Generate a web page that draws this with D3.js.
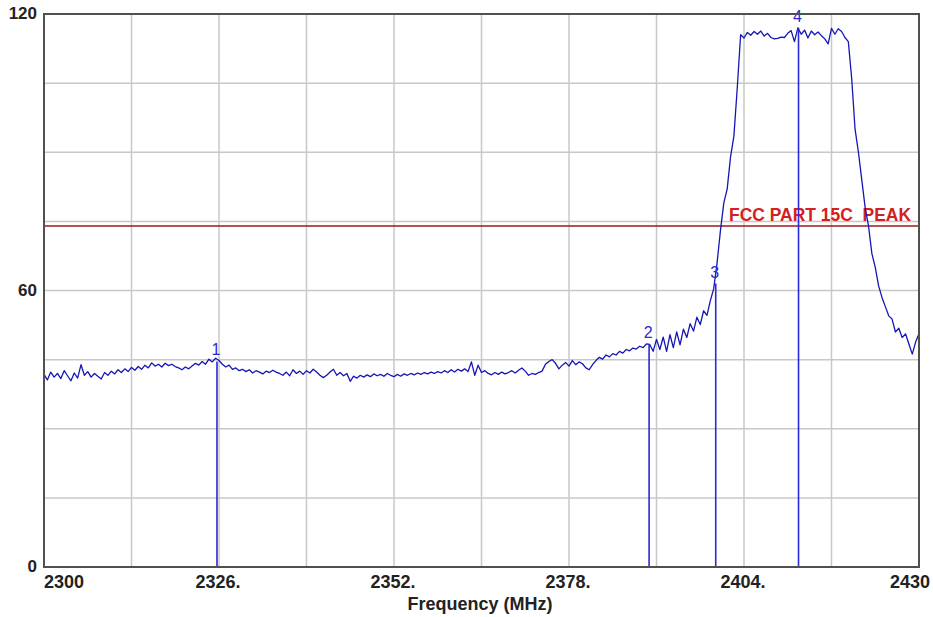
<!DOCTYPE html>
<html><head><meta charset="utf-8">
<script src="https://cdn.jsdelivr.net/npm/d3@7"></script>
<style>html,body{margin:0;padding:0;background:#fff;}svg{display:block;}</style>
</head><body>
<svg id="c" width="933" height="617"></svg>
<script>
// Sweep settings (MHz)
const freqStart = 2300;
const freqStep = 0.5;
// Trace levels (dBuV) every 0.5 MHz from 2300 to 2430
const levels = [
 41.8, 40.6, 42.3, 41.2, 42.0, 40.9, 42.6, 41.5, 40.4, 42.1,
 41.0, 43.9, 41.6, 42.4, 41.2, 42.0, 41.4, 40.8, 42.2, 41.6,
 42.5, 41.9, 42.8, 42.2, 43.0, 42.4, 43.3, 42.7, 43.5, 42.9,
 43.8, 43.2, 44.3, 43.6, 44.0, 43.4, 44.2, 43.7, 44.0, 43.5,
 43.2, 42.8, 43.4, 43.0, 43.6, 44.2, 43.8, 44.6, 44.0, 45.1,
 44.5, 45.3, 44.8, 44.0, 43.4, 43.8, 42.9, 43.2, 42.6, 42.9,
 42.4, 42.8, 42.1, 42.6, 42.3, 41.9, 42.5, 42.2, 42.7, 42.3,
 42.0, 41.6, 42.3, 41.5, 42.8, 42.0, 42.5, 41.8, 42.6, 42.1,
 42.9, 42.3, 41.6, 41.1, 41.6, 42.3, 42.9, 41.6, 42.2, 41.5,
 42.0, 40.3, 41.4, 41.0, 41.6, 41.2, 41.7, 41.3, 41.9, 41.5,
 41.8, 41.4, 42.0, 41.6, 41.3, 41.8, 41.4, 41.9, 41.6, 42.0,
 41.7, 42.1, 41.8, 42.2, 41.9, 42.3, 42.0, 42.4, 42.1, 42.6,
 42.2, 42.8, 42.3, 42.9, 42.5, 43.0, 42.4, 44.5, 41.6, 43.8,
 42.2, 42.6, 42.0, 41.7, 42.2, 41.8, 42.3, 41.9, 42.2, 42.6,
 42.1, 42.7, 43.2, 42.5, 41.6, 42.0, 41.8, 42.2, 42.5, 44.0,
 44.6, 45.0, 44.2, 43.0, 43.8, 44.4, 43.6, 44.8, 43.9, 44.5,
 44.1, 43.2, 42.8, 43.9, 44.8, 45.5, 45.1, 46.0, 45.6, 46.3,
 46.0, 46.8, 46.4, 47.2, 46.9, 47.5, 47.3, 47.9, 47.6, 48.4,
 48.3, 46.8, 49.4, 47.2, 49.9, 46.8, 50.4, 47.6, 51.0, 48.2,
 51.6, 49.8, 52.8, 51.2, 54.2, 52.6, 55.6, 54.6, 57.8, 60.4,
 66.0, 73.0, 79.0, 82.0, 89.0, 93.5, 104.0, 115.5, 114.8, 116.0,
 115.4, 116.2, 115.6, 116.3, 115.2, 115.8, 114.9, 114.6, 114.7, 115.0,
 114.9, 115.8, 116.4, 114.0, 117.0, 115.6, 116.5, 114.8, 116.3, 115.5,
 116.1, 115.3, 114.6, 113.5, 116.9, 115.6, 116.8, 116.2, 114.9, 114.0,
 106.0, 95.0, 90.0, 84.0, 78.0, 74.0, 68.0, 65.0, 61.0, 58.5,
 56.5, 54.5, 53.8, 51.0, 51.8, 49.8, 50.6, 48.4, 46.2, 48.8,
 50.6
];
// Markers
const markerLabels = ["1", "2", "3", "4"];
const markerFreqs = [2325.7, 2389.9, 2399.8, 2412.1];
const markerLevels = [44.6, 48.4, 61.5, 117.0];
// Limit line
const limitLevel = 74;
const limitLabel = "FCC PART 15C  PEAK";
// Axes
const xDomain = [2300, 2430];
const yDomain = [0, 120];
const xGridValues = [2300, 2313, 2326, 2339, 2352, 2365, 2378, 2391, 2404, 2417, 2430];
const yGridValues = [0, 15, 30, 45, 60, 75, 90, 105, 120];
const xTickValues = [2300, 2326, 2352, 2378, 2404, 2430];
const xTickLabels = ["2300", "2326.", "2352.", "2378.", "2404.", "2430"];
const yTickValues = [0, 60, 120];
const yTickLabels = ["0", "60", "120"];
const xTitle = "Frequency (MHz)";

const svg = d3.select("#c");
const L = 44, R = 919, T = 14, B = 567;
const x = d3.scaleLinear().domain(xDomain).range([L, R]);
const y = d3.scaleLinear().domain(yDomain).range([B, T]);
const font = "Liberation Sans, Arial, sans-serif";

// grid
svg.append("g").selectAll("line").data(xGridValues).join("line")
  .attr("x1", d => x(d)).attr("x2", d => x(d)).attr("y1", T).attr("y2", B)
  .attr("stroke", "#c8c8c8").attr("stroke-width", 1.5);
svg.append("g").selectAll("line").data(yGridValues).join("line")
  .attr("x1", L).attr("x2", R).attr("y1", d => y(d)).attr("y2", d => y(d))
  .attr("stroke", "#c8c8c8").attr("stroke-width", 1.5);

// limit line
svg.append("line").attr("x1", L).attr("x2", R)
  .attr("y1", y(limitLevel)).attr("y2", y(limitLevel))
  .attr("stroke", "#9a1a1a").attr("stroke-width", 1.5);
svg.append("text").attr("x", 729).attr("y", y(limitLevel) - 5)
  .attr("text-anchor", "start").attr("fill", "#d42020")
  .attr("font-family", font).attr("font-weight", "bold")
  .attr("font-size", 18).attr("textLength", 182).attr("lengthAdjust", "spacingAndGlyphs")
  .style("white-space", "pre").text(limitLabel);

// trace
const line = d3.line().x((d, i) => x(freqStart + i * freqStep)).y(d => y(d));
svg.append("path").datum(levels).attr("d", line)
  .attr("fill", "none").attr("stroke", "#1616b4").attr("stroke-width", 1.3)
  .attr("stroke-linejoin", "round");

// markers
const mk = svg.append("g");
markerFreqs.forEach((f, i) => {
  mk.append("line").attr("x1", x(f)).attr("x2", x(f))
    .attr("y1", y(0)).attr("y2", y(markerLevels[i]))
    .attr("stroke", "#2a2ad8").attr("stroke-width", 1.6);
  mk.append("text").attr("x", x(f) - 1).attr("y", y(markerLevels[i]) - 6)
    .attr("text-anchor", "middle").attr("fill", "#2a2ad8")
    .attr("font-family", font).attr("font-size", 16)
    .text(markerLabels[i]);
});

// frame
svg.append("rect").attr("x", L).attr("y", T).attr("width", R - L).attr("height", B - T)
  .attr("fill", "none").attr("stroke", "#505050").attr("stroke-width", 2);

// tick labels
svg.append("g").selectAll("text").data(xTickValues).join("text")
  .attr("x", (d, i) => i === 0 ? L : (i === xTickValues.length - 1 ? x(d) + 11 : x(d) - 1))
  .attr("y", 588)
  .attr("text-anchor", (d, i) => i === 0 ? "start" : (i === xTickValues.length - 1 ? "end" : "middle"))
  .attr("font-family", font).attr("font-weight", "bold").attr("font-size", 18)
  .attr("fill", "#222").text((d, i) => xTickLabels[i]);
svg.append("g").selectAll("text").data(yTickValues).join("text")
  .attr("x", 37).attr("y", d => y(d) + 5)
  .attr("text-anchor", "end")
  .attr("font-family", font).attr("font-weight", "bold").attr("font-size", 17)
  .attr("fill", "#222").text((d, i) => yTickLabels[i]);

svg.append("text").attr("x", 480).attr("y", 610).attr("text-anchor", "middle")
  .attr("font-family", font).attr("font-weight", "bold").attr("font-size", 18)
  .attr("fill", "#222").text(xTitle);
</script>
</body></html>
